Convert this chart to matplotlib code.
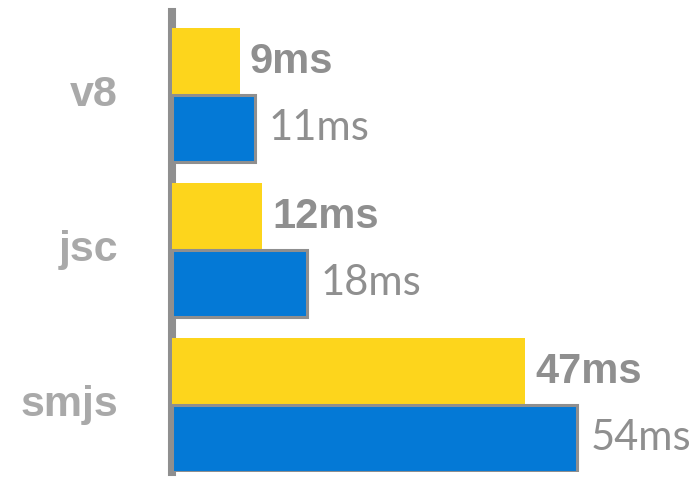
import matplotlib
matplotlib.use("Agg")
import matplotlib.pyplot as plt
import numpy as np

categories = ["v8", "jsc", "smjs"]
yellow_values = [9, 12, 47]
blue_values = [11, 18, 54]
yellow_labels = ["9ms", "12ms", "47ms"]
blue_labels = ["11ms", "18ms", "54ms"]

YELLOW = "#FDD51C"
BLUE = "#0479D6"
GREY = "#8F8F8F"
CAT_GREY = "#A9A9A9"

W, H = 695, 478
fig = plt.figure(figsize=(W / 100, H / 100), dpi=100)
ax = fig.add_axes([172 / W, 6 / H, (W - 172) / W, 460 / H])

y = np.arange(len(categories))
h = 0.43
off = 0.215

ax.barh(y - off, yellow_values, height=h, color=YELLOW, zorder=3, linewidth=0)
ax.barh(y + off, blue_values, height=h, color=BLUE, edgecolor=GREY,
        linewidth=2.2, zorder=3)

for yi, v, lab in zip(y, yellow_values, yellow_labels):
    ax.annotate(lab, (v, yi - off), xytext=(7.5, 0), textcoords="offset points",
                ha="left", va="center", fontsize=30, fontweight="bold",
                color=GREY, family="Liberation Sans")
for yi, v, lab in zip(y, blue_values, blue_labels):
    ax.annotate(lab, (v, yi + off), xytext=(10, 0), textcoords="offset points",
                ha="left", va="center", fontsize=30, color=GREY, family="Lato")
for yi, c in zip(y, categories):
    ax.annotate(c, (0, yi), xytext=(-39, 0), textcoords="offset points",
                ha="right", va="center", fontsize=31, fontweight="bold",
                color=CAT_GREY, family="Liberation Sans", annotation_clip=False)

ax.set_xlim(0, (W - 172) / 7.5)
ax.set_ylim(2.432, -0.535)
for s in ["top", "right", "bottom"]:
    ax.spines[s].set_visible(False)
ax.spines["left"].set_linewidth(5.8)
ax.spines["left"].set_color(GREY)
ax.spines["left"].set_zorder(2)
ax.set_xticks([])
ax.set_yticks([])
ax.patch.set_visible(False)

fig.savefig("out.png", dpi=100)
